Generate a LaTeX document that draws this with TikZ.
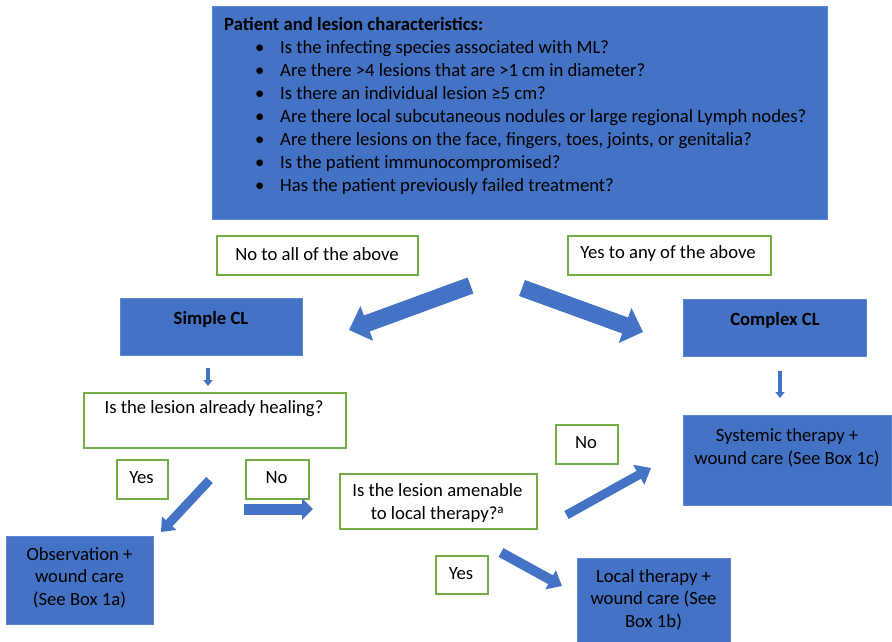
\documentclass[tikz,border=0pt]{standalone}
\usepackage{fontspec}
\setmainfont{Carlito}
\usetikzlibrary{arrows.meta}
\definecolor{boxblue}{HTML}{4472C4}
\definecolor{edgeblue}{HTML}{5B87D2}
\definecolor{boxgreen}{HTML}{70AD47}
\tikzset{
  bluebox/.style={fill=boxblue, draw=edgeblue, line width=0.8pt, inner sep=0pt, anchor=north west},
  greenbox/.style={fill=white, draw=boxgreen, line width=1.5pt, inner sep=0pt, anchor=north west},
  txt/.style={font=\fontsize{18.67}{22.6}\selectfont, align=center, inner sep=0pt, text=black},
  fat/.style={draw=boxblue, line width=#1},
}
\begin{document}
\begin{tikzpicture}[x=1pt,y=-1pt]
\path[use as bounding box, fill=white] (0,0) rectangle (892,642);

% top box
\node[bluebox, minimum width=615pt, minimum height=213pt] (top) at (212,6) {};
\node[txt, anchor=north west, align=left, font=\fontsize{18.67}{23}\selectfont] (toptxt) at (224,17.5) {%
\textbf{Patient and lesion characteristics:}\\
\hspace*{31pt}\makebox[25pt][l]{•}Is the infecting species associated with ML?\\
\hspace*{31pt}\makebox[25pt][l]{•}Are there >4 lesions that are >1 cm in diameter?\\
\hspace*{31pt}\makebox[25pt][l]{•}Is there an individual lesion ≥5 cm?\\
\hspace*{31pt}\makebox[25pt][l]{•}Are there local subcutaneous nodules or large regional Lymph nodes?\\
\hspace*{31pt}\makebox[25pt][l]{•}Are there lesions on the face, fingers, toes, joints, or genitalia?\\
\hspace*{31pt}\makebox[25pt][l]{•}Is the patient immunocompromised?\\
\hspace*{31pt}\makebox[25pt][l]{•}Has the patient previously failed treatment?};

% decision labels
\node[greenbox, minimum width=201pt, minimum height=39pt] (noall) at (216,235) {};
\node[txt] (noalltxt) at (317,254) {No to all of the above};
\node[greenbox, minimum width=203pt, minimum height=39pt] (yesany) at (567,235) {};
\node[txt] (yesanytxt) at (668,254) {Yes to any of the above};

% CL boxes
\node[bluebox, minimum width=182pt, minimum height=57pt] (simple) at (120,298) {};
\node[txt] (simpletxt) at (211,319) {\textbf{Simple CL}};
\node[bluebox, minimum width=183pt, minimum height=57pt] (complex) at (683,299) {};
\node[txt] (complextxt) at (775,320) {\textbf{Complex CL}};

% healing
\node[greenbox, minimum width=262pt, minimum height=55pt] (heal) at (83,392) {};
\node[txt] (healtxt) at (214,409) {Is the lesion already healing?};

% systemic
\node[bluebox, minimum width=208pt, minimum height=90pt] (sys) at (683,415) {};
\node[txt] (systxt) at (787,448) {Systemic therapy +\\ wound care (See Box 1c)};

% yes / no under healing
\node[greenbox, minimum width=51pt, minimum height=39pt] (yes1) at (116,459) {};
\node[txt] (yes1txt) at (141.5,478) {Yes};
\node[greenbox, minimum width=63pt, minimum height=39pt] (no1) at (245,459) {};
\node[txt] (no1txt) at (276.5,478) {No};

% amenable
\node[greenbox, minimum width=197pt, minimum height=55pt] (amen) at (339,473) {};
\node[txt] (amentxt) at (437.5,503) {Is the lesion amenable\\ to local therapy?\textsuperscript{a}};

% no right
\node[greenbox, minimum width=62pt, minimum height=39pt] (no2) at (555,424) {};
\node[txt] (no2txt) at (586,443) {No};

% observation
\node[bluebox, minimum width=147pt, minimum height=88pt] (obs) at (6,536) {};
\node[txt] (obstxt) at (79.5,577.5) {Observation +\\ wound care\\ (See Box 1a)};

% yes lower
\node[greenbox, minimum width=52pt, minimum height=38pt] (yes2) at (435,555) {};
\node[txt] (yes2txt) at (461,574) {Yes};

% local therapy
\node[bluebox, minimum width=153pt, minimum height=86pt] (local) at (577,558) {};
\node[txt] (localtxt) at (653.5,599.5) {Local therapy +\\ wound care (See\\ Box 1b)};

% arrow end points
\coordinate (a1s) at (470.5,285.5); \coordinate (a1e) at (349,330);
\coordinate (a2s) at (522,288);    \coordinate (a2e) at (643,332);
\coordinate (a3s) at (208,368);    \coordinate (a3e) at (208,386);
\coordinate (a4s) at (780,371);    \coordinate (a4e) at (780,398);
\coordinate (a5s) at (209.5,480);  \coordinate (a5e) at (161,532);
\coordinate (a6s) at (244,509);    \coordinate (a6e) at (313,509);
\coordinate (a7s) at (566.5,515);  \coordinate (a7e) at (651,468);
\coordinate (a8s) at (501,552.5);  \coordinate (a8e) at (562,586);

\draw[fat=17pt, -{Triangle[width=36pt,length=19pt]}, boxblue] (a1s) -- (a1e);
\draw[fat=17pt, -{Triangle[width=36pt,length=19pt]}, boxblue] (a2s) -- (a2e);
\draw[fat=4pt, -{Triangle[width=9pt,length=6pt]}, boxblue] (a3s) -- (a3e);
\draw[fat=4pt, -{Triangle[width=9pt,length=6pt]}, boxblue] (a4s) -- (a4e);
\draw[fat=9pt, -{Triangle[width=19pt,length=12pt]}, boxblue] (a5s) -- (a5e);
\draw[fat=11pt, -{Triangle[width=21pt,length=11pt]}, boxblue] (a6s) -- (a6e);
\draw[fat=9pt, -{Triangle[width=22pt,length=14pt]}, boxblue] (a7s) -- (a7e);
\draw[fat=10pt, -{Triangle[width=21pt,length=13pt]}, boxblue] (a8s) -- (a8e);
\end{tikzpicture}
\end{document}
